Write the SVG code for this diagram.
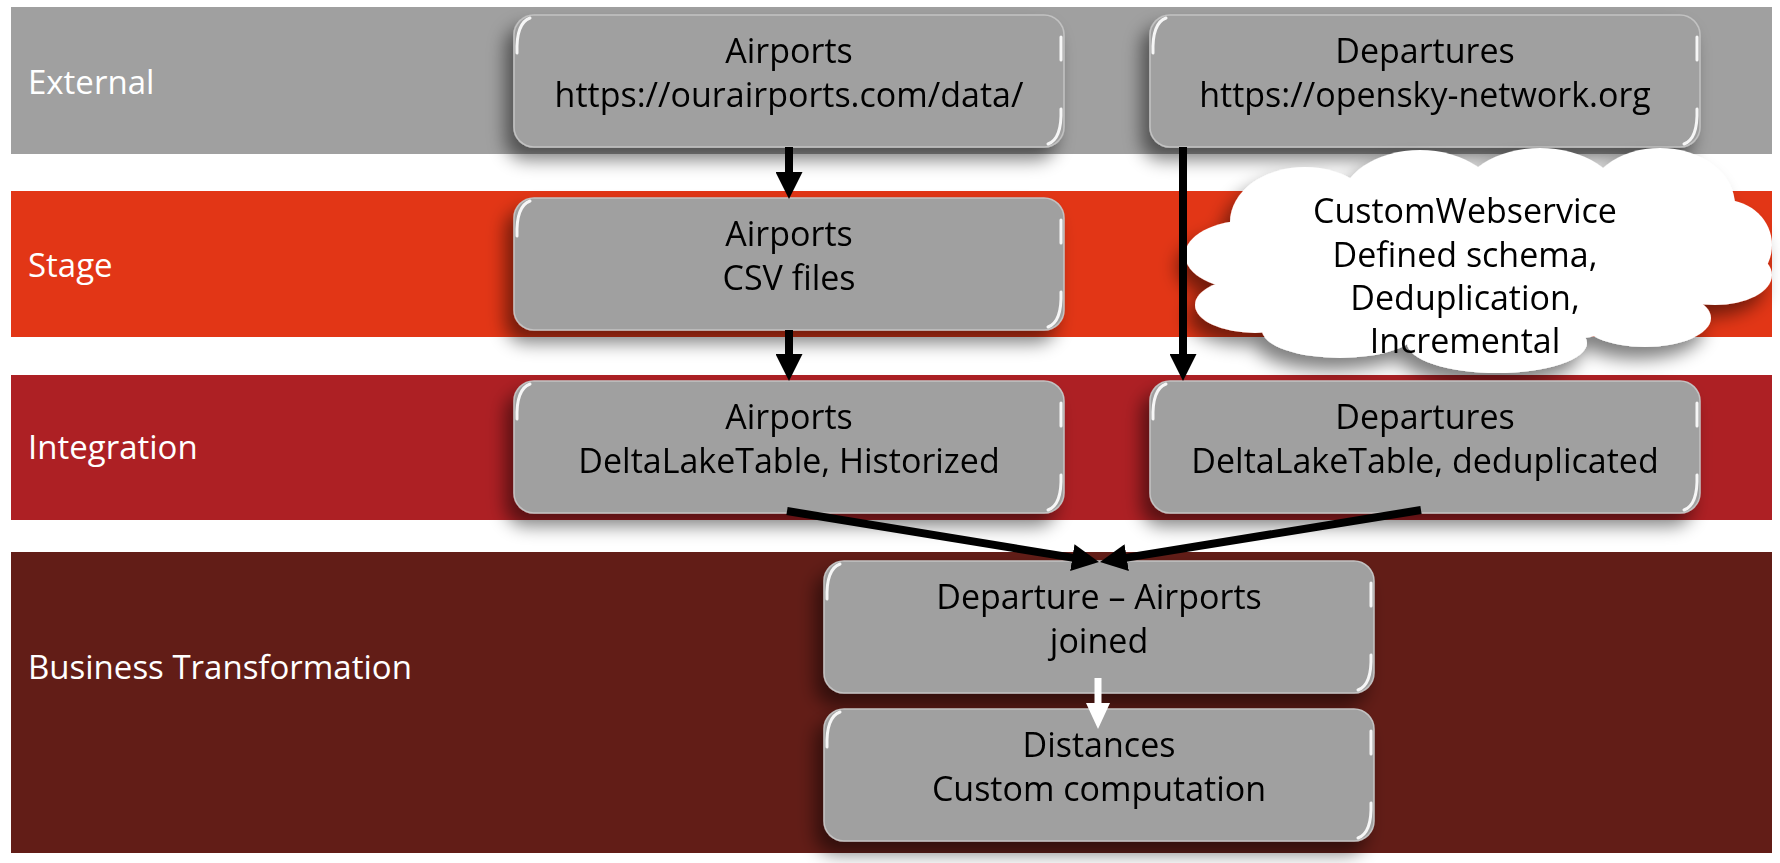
<svg xmlns="http://www.w3.org/2000/svg" xmlns:xlink="http://www.w3.org/1999/xlink" width="1780" height="863" viewBox="0 0 1780 863">
<style>
.lbl{font-family:"Open Sans","Noto Sans","Liberation Sans",sans-serif;font-size:33px;fill:#ffffff}
.txt{font-family:"Open Sans","Noto Sans","Liberation Sans",sans-serif;font-size:34px;fill:#000000;text-anchor:middle}
.box{fill:#a0a0a0;stroke:#c2c2c2;stroke-width:1.5}
.hl{fill:none;stroke:#ffffff;stroke-width:3;stroke-linecap:round;opacity:0.9}
.con{fill:none;stroke:#000000;stroke-width:8}
.conw{fill:none;stroke:#ffffff;stroke-width:7}
</style>
<defs>
<filter id="sh" x="-20%" y="-30%" width="140%" height="170%">
<feGaussianBlur in="SourceAlpha" stdDeviation="9"/>
<feOffset dx="-8" dy="12"/>
<feComponentTransfer><feFuncA type="linear" slope="0.5"/></feComponentTransfer>
<feMerge><feMergeNode/><feMergeNode in="SourceGraphic"/></feMerge>
</filter>
<g id="boxshape">
<rect class="box" x="0" y="0" width="550" height="132" rx="20"/>
<path class="hl" d="M3,38 Q2,8 16,3"/>
<path class="hl" d="M547,94 Q548,124 534,129"/>
<path class="hl" d="M547,22 L547,45" stroke-width="2"/>
</g>
<marker id="ah" markerUnits="userSpaceOnUse" markerWidth="27" markerHeight="27" refX="17" refY="13.5" orient="auto">
<path d="M0,0 L27,13.5 L0,27 z" fill="#000000"/>
</marker>
<marker id="ahw" markerUnits="userSpaceOnUse" markerWidth="26" markerHeight="24" refX="16" refY="12" orient="auto">
<path d="M0,0 L26,12 L0,24 z" fill="#ffffff"/>
</marker>
</defs>
<rect width="1780" height="863" fill="#ffffff"/>
<g id="bands">
<rect id="band-external" x="11" y="7" width="1761" height="147" fill="#a0a0a0"/>
<rect id="band-stage" x="11" y="191" width="1761" height="146" fill="#e23616"/>
<rect id="band-integration" x="11" y="375" width="1761" height="145" fill="#ad2024"/>
<rect id="band-business" x="11" y="552" width="1761" height="301" fill="#621d17"/>
<text class="lbl" x="28" y="94">External</text>
<text class="lbl" x="28" y="277">Stage</text>
<text class="lbl" x="28" y="459">Integration</text>
<text class="lbl" x="28" y="679">Business Transformation</text>
</g>
<g id="node-airports-ext" filter="url(#sh)">
<use xlink:href="#boxshape" href="#boxshape" x="514" y="15"/>
<text class="txt" x="789" y="63">Airports</text>
<text class="txt" x="789" y="107">https://ourairports.com/data/</text>
</g>
<g id="node-departures-ext" filter="url(#sh)">
<use xlink:href="#boxshape" href="#boxshape" x="1150" y="15"/>
<text class="txt" x="1425" y="63">Departures</text>
<text class="txt" x="1425" y="107">https://opensky-network.org</text>
</g>
<g id="node-airports-stage" filter="url(#sh)">
<use xlink:href="#boxshape" href="#boxshape" x="514" y="198"/>
<text class="txt" x="789" y="246">Airports</text>
<text class="txt" x="789" y="290">CSV files</text>
</g>
<g id="node-cloud" filter="url(#sh)">
<g fill="#ffffff">
<ellipse cx="1305" cy="222" rx="75" ry="55"/>
<ellipse cx="1420" cy="205" rx="80" ry="55"/>
<ellipse cx="1540" cy="200" rx="80" ry="52"/>
<ellipse cx="1660" cy="205" rx="75" ry="57"/>
<ellipse cx="1725" cy="245" rx="47" ry="45"/>
<ellipse cx="1250" cy="255" rx="65" ry="35"/>
<ellipse cx="1255" cy="305" rx="60" ry="28"/>
<ellipse cx="1340" cy="330" rx="78" ry="28"/>
<ellipse cx="1497" cy="343" rx="90" ry="30"/>
<ellipse cx="1645" cy="318" rx="66" ry="29"/>
<ellipse cx="1715" cy="275" rx="57" ry="30"/>
<ellipse cx="1475" cy="262" rx="245" ry="85"/>
</g>
<text class="txt" x="1465" y="223">CustomWebservice</text>
<text class="txt" x="1465" y="267">Defined schema,</text>
<text class="txt" x="1465" y="310">Deduplication,</text>
<text class="txt" x="1465" y="353">Incremental</text>
</g>
<g id="node-airports-int" filter="url(#sh)">
<use xlink:href="#boxshape" href="#boxshape" x="514" y="381"/>
<text class="txt" x="789" y="429">Airports</text>
<text class="txt" x="789" y="473">DeltaLakeTable, Historized</text>
</g>
<g id="node-departures-int" filter="url(#sh)">
<use xlink:href="#boxshape" href="#boxshape" x="1150" y="381"/>
<text class="txt" x="1425" y="429">Departures</text>
<text class="txt" x="1425" y="473">DeltaLakeTable, deduplicated</text>
</g>
<g id="node-joined" filter="url(#sh)">
<use xlink:href="#boxshape" href="#boxshape" x="824" y="561"/>
<text class="txt" x="1099" y="609">Departure – Airports</text>
<text class="txt" x="1099" y="653">joined</text>
</g>
<g id="node-distances" filter="url(#sh)">
<use xlink:href="#boxshape" href="#boxshape" x="824" y="709"/>
<text class="txt" x="1099" y="757">Distances</text>
<text class="txt" x="1099" y="801">Custom computation</text>
</g>
<g id="connectors">
<path class="con" d="M789,147 L789,189" marker-end="url(#ah)"/>
<path class="con" d="M789,330 L789,371" marker-end="url(#ah)"/>
<path class="con" d="M1183,147 L1183,371" marker-end="url(#ah)"/>
<path class="con" d="M787,511 L1089.1,560.4" marker-end="url(#ah)"/>
<path class="con" d="M1421,510 L1109.9,560.4" marker-end="url(#ah)"/>
<path class="conw" d="M1098,678 L1098,719" marker-end="url(#ahw)"/>
</g>
</svg>
